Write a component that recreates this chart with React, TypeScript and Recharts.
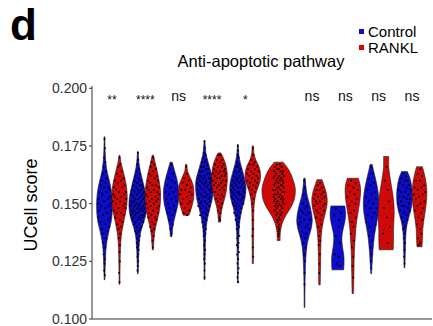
import React from 'react'
import { ComposedChart, Scatter, XAxis, YAxis, LabelList } from 'recharts'

const groups = [1, 2, 3, 4, 5, 6, 7, 8, 9, 10]
const sigLabels = ['**', '****', 'ns', '****', '*', '', 'ns', 'ns', 'ns', 'ns']
const yTicks = [0.1, 0.125, 0.15, 0.175, 0.2]
const legendItems = ['Control', 'RANKL']

const CONTROL = '#0c0cc9'
const RANKL = '#d10808'
const DODGE = 0.225
const WIDTH_SCALE = 1.1
const FONT = '"Liberation Sans", Arial, sans-serif'

// violin outlines: [score, half width in x units]
const ctrl1 = [[0.179, 0.01], [0.172, 0.02], [0.166, 0.05], [0.162, 0.1], [0.158, 0.16], [0.154, 0.2], [0.15, 0.215], [0.146, 0.21], [0.142, 0.18], [0.138, 0.12], [0.134, 0.07], [0.13, 0.04], [0.125, 0.025], [0.12, 0.015], [0.117, 0.01]]
const rankl1 = [[0.171, 0.01], [0.168, 0.04], [0.164, 0.1], [0.16, 0.16], [0.156, 0.2], [0.152, 0.21], [0.148, 0.19], [0.144, 0.14], [0.14, 0.09], [0.136, 0.05], [0.13, 0.025], [0.122, 0.015], [0.115, 0.01]]
const ctrl2 = [[0.1726, 0.01], [0.168, 0.03], [0.164, 0.07], [0.16, 0.13], [0.156, 0.19], [0.152, 0.235], [0.148, 0.24], [0.144, 0.2], [0.14, 0.12], [0.136, 0.06], [0.13, 0.03], [0.125, 0.02], [0.1196, 0.01]]
const rankl2 = [[0.171, 0.02], [0.168, 0.06], [0.164, 0.12], [0.16, 0.17], [0.156, 0.205], [0.152, 0.21], [0.148, 0.19], [0.144, 0.14], [0.14, 0.08], [0.136, 0.04], [0.13, 0.015]]
const ctrl3 = [[0.168, 0.03], [0.165, 0.08], [0.161, 0.15], [0.157, 0.2], [0.154, 0.21], [0.15, 0.19], [0.146, 0.13], [0.142, 0.07], [0.139, 0.04], [0.1357, 0.02]]
const rankl3 = [[0.167, 0.02], [0.164, 0.04], [0.161, 0.12], [0.158, 0.19], [0.155, 0.21], [0.152, 0.2], [0.149, 0.16], [0.147, 0.12], [0.145, 0.08]]
const ctrl4 = [[0.1774, 0.01], [0.172, 0.04], [0.168, 0.1], [0.164, 0.17], [0.16, 0.235], [0.156, 0.24], [0.152, 0.21], [0.148, 0.15], [0.144, 0.09], [0.14, 0.05], [0.135, 0.03], [0.128, 0.02], [0.122, 0.012], [0.117, 0.01]]
const rankl4 = [[0.172, 0.04], [0.17, 0.1], [0.167, 0.17], [0.163, 0.21], [0.159, 0.21], [0.155, 0.18], [0.151, 0.12], [0.148, 0.07], [0.145, 0.04], [0.142, 0.03]]
const ctrl5 = [[0.1757, 0.01], [0.171, 0.03], [0.167, 0.08], [0.163, 0.15], [0.159, 0.21], [0.156, 0.22], [0.152, 0.19], [0.148, 0.12], [0.144, 0.07], [0.14, 0.04], [0.134, 0.025], [0.126, 0.015], [0.1157, 0.01]]
const rankl5 = [[0.175, 0.02], [0.172, 0.03], [0.169, 0.08], [0.166, 0.17], [0.163, 0.21], [0.16, 0.2], [0.157, 0.14], [0.154, 0.08], [0.15, 0.04], [0.145, 0.025], [0.135, 0.02], [0.124, 0.015]]
const rankl6 = [[0.168, 0.12], [0.166, 0.22], [0.163, 0.33], [0.16, 0.4], [0.157, 0.45], [0.154, 0.45], [0.151, 0.41], [0.148, 0.32], [0.145, 0.2], [0.142, 0.11], [0.139, 0.06], [0.136, 0.04], [0.134, 0.04]]
const ctrl7 = [[0.161, 0.02], [0.157, 0.04], [0.153, 0.08], [0.149, 0.15], [0.145, 0.2], [0.142, 0.21], [0.139, 0.18], [0.135, 0.11], [0.131, 0.06], [0.126, 0.035], [0.12, 0.02], [0.112, 0.012], [0.105, 0.01]]
const rankl7 = [[0.1604, 0.07], [0.158, 0.12], [0.155, 0.18], [0.152, 0.21], [0.149, 0.2], [0.146, 0.16], [0.142, 0.1], [0.138, 0.06], [0.133, 0.04], [0.126, 0.03], [0.12, 0.025], [0.1148, 0.02]]
const ctrl8 = [[0.149, 0.19], [0.146, 0.21], [0.143, 0.2], [0.14, 0.16], [0.137, 0.12], [0.134, 0.11], [0.131, 0.13], [0.128, 0.16], [0.125, 0.17], [0.1213, 0.16]]
const rankl8 = [[0.161, 0.15], [0.158, 0.2], [0.155, 0.21], [0.151, 0.19], [0.147, 0.15], [0.143, 0.11], [0.139, 0.08], [0.134, 0.06], [0.128, 0.04], [0.12, 0.03], [0.111, 0.02]]
const ctrl9 = [[0.167, 0.03], [0.164, 0.07], [0.16, 0.13], [0.156, 0.18], [0.152, 0.21], [0.148, 0.21], [0.144, 0.18], [0.14, 0.13], [0.135, 0.08], [0.13, 0.05], [0.125, 0.03], [0.1196, 0.01]]
const rankl9 = [[0.1704, 0.07], [0.166, 0.07], [0.162, 0.1], [0.158, 0.14], [0.154, 0.18], [0.15, 0.21], [0.146, 0.22], [0.142, 0.21], [0.138, 0.2], [0.134, 0.2], [0.13, 0.19]]
const ctrl10 = [[0.1639, 0.08], [0.161, 0.15], [0.158, 0.19], [0.155, 0.21], [0.151, 0.21], [0.147, 0.17], [0.143, 0.1], [0.139, 0.05], [0.134, 0.03], [0.128, 0.02], [0.1222, 0.01]]
const rankl10 = [[0.166, 0.08], [0.163, 0.13], [0.159, 0.18], [0.155, 0.2], [0.151, 0.19], [0.147, 0.16], [0.143, 0.12], [0.139, 0.09], [0.135, 0.08], [0.1313, 0.07]]

// cells: [x offset from violin centre, score]
const ctrlPts1 = [[0, 0.178], [0.01, 0.174], [-0.01, 0.17], [0.02, 0.168], [-0.03, 0.166], [0.04, 0.164], [-0.05, 0.163], [0.06, 0.161], [-0.08, 0.16], [0.03, 0.159], [-0.1, 0.158], [0.11, 0.157], [-0.02, 0.157], [0.14, 0.156], [-0.13, 0.155], [0.05, 0.155], [-0.06, 0.154], [0.16, 0.153], [-0.16, 0.152], [0.09, 0.152], [-0.01, 0.151], [0.17, 0.15], [-0.18, 0.15], [0.12, 0.149], [-0.09, 0.149], [0.02, 0.148], [0.18, 0.147], [-0.15, 0.147], [0.07, 0.146], [-0.04, 0.145], [0.15, 0.144], [-0.17, 0.144], [0.1, 0.143], [-0.11, 0.142], [0.03, 0.141], [0.13, 0.14], [-0.07, 0.139], [0.08, 0.138], [-0.05, 0.137], [0.04, 0.135], [-0.03, 0.133], [0.02, 0.131], [-0.02, 0.128], [0.01, 0.126], [0, 0.124], [-0.01, 0.121], [0.01, 0.119]]
const ranklPts1 = [[0, 0.17], [0.02, 0.167], [-0.03, 0.166], [0.06, 0.164], [-0.07, 0.163], [0.01, 0.162], [0.11, 0.161], [-0.12, 0.16], [0.04, 0.16], [-0.04, 0.159], [0.14, 0.158], [-0.15, 0.157], [0.08, 0.157], [-0.09, 0.156], [0.17, 0.155], [-0.01, 0.155], [-0.17, 0.154], [0.12, 0.154], [0.05, 0.153], [-0.13, 0.153], [0.18, 0.152], [-0.06, 0.152], [0.02, 0.151], [-0.18, 0.151], [0.14, 0.15], [-0.1, 0.15], [0.09, 0.149], [-0.03, 0.148], [0.16, 0.148], [-0.15, 0.147], [0.04, 0.146], [-0.08, 0.146], [0.12, 0.145], [-0.12, 0.144], [0.01, 0.143], [0.08, 0.142], [-0.06, 0.141], [0.04, 0.14], [-0.03, 0.139], [0.02, 0.137], [-0.02, 0.135], [0.01, 0.132], [0, 0.129], [0.01, 0.125], [-0.01, 0.12], [0, 0.116]]
const ctrlPts2 = [[0, 0.172], [0.01, 0.169], [-0.02, 0.167], [0.03, 0.165], [-0.04, 0.164], [0.05, 0.163], [-0.06, 0.162], [0.02, 0.161], [0.08, 0.16], [-0.09, 0.16], [-0.01, 0.159], [0.11, 0.158], [-0.12, 0.158], [0.05, 0.158], [-0.05, 0.157], [0.14, 0.157], [0.09, 0.156], [-0.15, 0.156], [0, 0.156], [-0.09, 0.155], [0.16, 0.155], [0.04, 0.155], [-0.18, 0.154], [0.12, 0.154], [-0.03, 0.154], [0.19, 0.153], [-0.13, 0.153], [0.07, 0.153], [-0.07, 0.152], [0.15, 0.152], [0.01, 0.152], [-0.19, 0.151], [0.1, 0.151], [-0.11, 0.151], [0.2, 0.15], [-0.04, 0.15], [0.05, 0.15], [-0.16, 0.15], [0.14, 0.149], [-0.2, 0.149], [-0.08, 0.149], [0.02, 0.149], [0.18, 0.148], [-0.13, 0.148], [0.09, 0.148], [-0.02, 0.148], [-0.18, 0.147], [0.13, 0.147], [0.05, 0.147], [-0.1, 0.147], [0.19, 0.146], [-0.05, 0.146], [0.01, 0.146], [-0.15, 0.146], [0.1, 0.145], [-0.19, 0.145], [0.16, 0.145], [-0.07, 0.145], [0.04, 0.144], [-0.12, 0.144], [0.13, 0.144], [-0.01, 0.143], [0.08, 0.143], [-0.15, 0.143], [0.15, 0.142], [-0.06, 0.142], [0.03, 0.141], [-0.1, 0.141], [0.1, 0.14], [-0.03, 0.14], [0.06, 0.139], [-0.07, 0.138], [0.02, 0.138], [-0.04, 0.137], [0.05, 0.136], [-0.02, 0.135], [0.03, 0.134], [-0.03, 0.133], [0.01, 0.132], [-0.02, 0.131], [0.02, 0.13], [0, 0.128], [-0.01, 0.127], [0.01, 0.125], [0, 0.123], [-0.01, 0.121]]
const ranklPts2 = [[0.01, 0.17], [-0.03, 0.168], [0.04, 0.167], [-0.06, 0.166], [0.08, 0.165], [0.01, 0.164], [-0.1, 0.163], [0.11, 0.162], [-0.04, 0.162], [0.05, 0.161], [-0.13, 0.16], [0.14, 0.16], [-0.08, 0.159], [0.09, 0.158], [-0.01, 0.158], [-0.16, 0.157], [0.16, 0.157], [0.03, 0.156], [-0.11, 0.156], [0.12, 0.155], [-0.05, 0.155], [-0.18, 0.154], [0.18, 0.154], [0.07, 0.153], [-0.14, 0.153], [-0.02, 0.152], [0.15, 0.152], [-0.09, 0.151], [0.1, 0.151], [-0.18, 0.15], [0.03, 0.15], [0.17, 0.149], [-0.06, 0.149], [-0.14, 0.148], [0.12, 0.148], [0.01, 0.147], [-0.1, 0.146], [0.14, 0.146], [-0.04, 0.145], [0.07, 0.144], [-0.12, 0.144], [0.1, 0.143], [-0.02, 0.142], [0.04, 0.141], [-0.07, 0.14], [0.03, 0.139], [-0.02, 0.138], [0.02, 0.136], [-0.01, 0.134], [0, 0.131]]
const ctrlPts3 = [[0.01, 0.167], [-0.03, 0.165], [0.05, 0.163], [-0.07, 0.161], [0.02, 0.16], [0.1, 0.159], [-0.11, 0.158], [-0.02, 0.157], [0.14, 0.156], [0.06, 0.155], [-0.15, 0.155], [-0.06, 0.154], [0.12, 0.153], [0.01, 0.152], [-0.13, 0.152], [0.15, 0.151], [-0.09, 0.15], [0.07, 0.149], [-0.04, 0.148], [0.1, 0.147], [-0.1, 0.146], [0.03, 0.145], [-0.05, 0.143], [0.04, 0.141], [-0.02, 0.139], [0.01, 0.137]]
const ranklPts3 = [[0, 0.166], [0.02, 0.163], [-0.05, 0.161], [0.07, 0.16], [-0.1, 0.159], [0.02, 0.158], [0.13, 0.157], [-0.13, 0.156], [-0.03, 0.156], [0.09, 0.155], [-0.16, 0.154], [0.15, 0.154], [0.02, 0.153], [-0.08, 0.152], [0.11, 0.151], [-0.13, 0.15], [0.05, 0.15], [-0.03, 0.148], [0.09, 0.147], [-0.07, 0.146], [0.02, 0.145]]
const ctrlPts4 = [[0, 0.177], [0.01, 0.174], [-0.02, 0.172], [0.03, 0.171], [-0.04, 0.17], [0.05, 0.169], [-0.07, 0.168], [0.01, 0.168], [0.08, 0.167], [-0.09, 0.166], [-0.02, 0.166], [0.11, 0.165], [0.04, 0.165], [-0.12, 0.164], [-0.05, 0.164], [0.14, 0.163], [0.08, 0.163], [-0.15, 0.162], [0.01, 0.162], [-0.09, 0.162], [0.17, 0.161], [0.12, 0.161], [-0.18, 0.161], [-0.03, 0.161], [0.05, 0.16], [-0.13, 0.16], [0.19, 0.16], [-0.07, 0.159], [0.15, 0.159], [-0.2, 0.159], [0.02, 0.159], [0.1, 0.158], [-0.16, 0.158], [-0.01, 0.158], [0.2, 0.157], [-0.11, 0.157], [0.06, 0.157], [-0.19, 0.156], [0.16, 0.156], [-0.05, 0.156], [0.12, 0.156], [0.01, 0.155], [-0.14, 0.155], [0.18, 0.155], [-0.09, 0.154], [0.08, 0.154], [-0.18, 0.154], [0.03, 0.153], [0.15, 0.153], [-0.04, 0.153], [-0.15, 0.152], [0.11, 0.152], [-0.08, 0.151], [0.17, 0.151], [0.01, 0.151], [-0.12, 0.15], [0.07, 0.15], [-0.17, 0.149], [0.13, 0.149], [-0.03, 0.149], [0.04, 0.148], [-0.1, 0.148], [0.1, 0.147], [-0.06, 0.146], [0.02, 0.146], [-0.12, 0.145], [0.07, 0.145], [-0.02, 0.144], [0.05, 0.143], [-0.06, 0.142], [0.02, 0.141], [-0.03, 0.14], [0.04, 0.139], [-0.01, 0.138], [0.02, 0.137], [-0.02, 0.136], [0.01, 0.134], [-0.01, 0.132], [0.02, 0.13], [0, 0.128], [-0.01, 0.126], [0.01, 0.124], [0, 0.121], [0, 0.118]]
const ranklPts4 = [[0.02, 0.171], [-0.03, 0.171], [0.06, 0.169], [-0.07, 0.169], [0.01, 0.168], [0.11, 0.167], [-0.12, 0.167], [-0.04, 0.166], [0.07, 0.166], [0.15, 0.165], [-0.15, 0.165], [0.02, 0.164], [-0.09, 0.164], [0.12, 0.164], [-0.17, 0.163], [0.17, 0.163], [-0.03, 0.163], [0.06, 0.162], [-0.12, 0.162], [0.14, 0.162], [-0.06, 0.161], [0.01, 0.161], [-0.17, 0.16], [0.18, 0.16], [0.09, 0.16], [-0.1, 0.159], [0.04, 0.159], [-0.02, 0.158], [0.15, 0.158], [-0.15, 0.158], [0.08, 0.157], [-0.07, 0.157], [0.12, 0.156], [0.01, 0.156], [-0.12, 0.155], [0.06, 0.154], [-0.04, 0.154], [0.1, 0.153], [-0.09, 0.152], [0.02, 0.152], [-0.05, 0.151], [0.06, 0.15], [-0.02, 0.149], [0.03, 0.148], [-0.04, 0.147], [0.02, 0.146], [-0.01, 0.144], [0.01, 0.143]]
const ctrlPts5 = [[0, 0.175], [0.01, 0.173], [-0.01, 0.171], [0.02, 0.17], [-0.03, 0.168], [0.04, 0.167], [-0.05, 0.166], [0.01, 0.166], [0.07, 0.165], [-0.08, 0.164], [0.03, 0.164], [-0.03, 0.163], [0.1, 0.163], [-0.11, 0.162], [0.06, 0.162], [-0.06, 0.161], [0.13, 0.161], [0.01, 0.161], [-0.14, 0.16], [0.09, 0.16], [-0.02, 0.16], [0.16, 0.159], [-0.09, 0.159], [0.04, 0.159], [-0.17, 0.158], [0.12, 0.158], [-0.05, 0.158], [0.18, 0.157], [0.01, 0.157], [-0.13, 0.157], [0.08, 0.157], [-0.19, 0.156], [0.15, 0.156], [-0.08, 0.156], [0.03, 0.155], [-0.15, 0.155], [0.18, 0.155], [-0.02, 0.155], [0.1, 0.154], [-0.11, 0.154], [0.05, 0.154], [-0.17, 0.153], [0.15, 0.153], [-0.05, 0.153], [0.01, 0.152], [0.11, 0.152], [-0.13, 0.152], [-0.08, 0.151], [0.07, 0.151], [0.15, 0.15], [-0.02, 0.15], [-0.14, 0.15], [0.03, 0.149], [-0.09, 0.149], [0.1, 0.148], [-0.05, 0.148], [0.01, 0.147], [-0.1, 0.146], [0.07, 0.146], [-0.03, 0.145], [0.04, 0.144], [-0.06, 0.143], [0.02, 0.142], [-0.02, 0.141], [0.03, 0.14], [-0.03, 0.139], [0.01, 0.137], [0.04, 0.136], [-0.02, 0.135], [0.02, 0.133], [-0.03, 0.132], [0.01, 0.131], [0.03, 0.129], [-0.02, 0.128], [0.01, 0.126], [-0.01, 0.124], [0.02, 0.122], [0, 0.12], [-0.01, 0.118], [0.01, 0.116]]
const ranklPts5 = [[0, 0.174], [0.01, 0.171], [-0.04, 0.169], [0.05, 0.168], [-0.09, 0.167], [0.01, 0.167], [0.12, 0.166], [-0.13, 0.165], [0.06, 0.165], [-0.05, 0.164], [0.16, 0.164], [-0.16, 0.163], [0.02, 0.163], [0.1, 0.162], [-0.1, 0.162], [0.15, 0.161], [-0.02, 0.161], [-0.15, 0.16], [0.06, 0.16], [0.12, 0.159], [-0.08, 0.159], [0.02, 0.158], [-0.11, 0.157], [0.08, 0.157], [-0.03, 0.156], [0.05, 0.155], [-0.05, 0.154], [0.02, 0.152], [-0.01, 0.15], [0.01, 0.147], [0, 0.143], [0.01, 0.139], [-0.01, 0.136], [0, 0.131], [0.01, 0.127]]
const ranklPts6 = [[-0.05, 0.167], [0.03, 0.167], [0.08, 0.166], [-0.1, 0.166], [0.01, 0.165], [-0.04, 0.165], [0.12, 0.164], [-0.13, 0.164], [0.05, 0.164], [-0.07, 0.163], [0.1, 0.163], [0.02, 0.162], [-0.11, 0.162], [0.14, 0.162], [-0.02, 0.161], [0.07, 0.161], [-0.14, 0.161], [0.11, 0.16], [-0.06, 0.16], [0.03, 0.16], [-0.09, 0.159], [0.13, 0.159], [-0.01, 0.159], [0.06, 0.158], [-0.12, 0.158], [0.09, 0.158], [-0.04, 0.157], [0.14, 0.157], [0.01, 0.157], [-0.15, 0.156], [0.05, 0.156], [-0.08, 0.156], [0.11, 0.155], [-0.02, 0.155], [0.15, 0.155], [-0.12, 0.154], [0.04, 0.154], [-0.06, 0.154], [0.09, 0.153], [-0.14, 0.153], [0.01, 0.153], [0.13, 0.152], [-0.09, 0.152], [0.06, 0.152], [-0.03, 0.151], [0.11, 0.151], [-0.12, 0.151], [0.02, 0.15], [-0.07, 0.15], [0.14, 0.15], [-0.1, 0.149], [0.07, 0.149], [-0.01, 0.149], [0.1, 0.148], [-0.05, 0.148], [0.03, 0.147], [-0.11, 0.147], [0.08, 0.146], [-0.03, 0.146], [0.05, 0.145], [-0.07, 0.145], [0.01, 0.144], [-0.04, 0.143], [0.04, 0.143], [-0.02, 0.142], [0.02, 0.141], [-0.01, 0.14], [0.01, 0.139], [0, 0.138], [0.01, 0.137], [-0.01, 0.136]]
const ctrlPts7 = [[-0.01, 0.16], [0.01, 0.157], [-0.02, 0.154], [0.04, 0.152], [-0.05, 0.15], [0.07, 0.149], [0.01, 0.148], [-0.09, 0.147], [0.11, 0.146], [-0.04, 0.146], [0.05, 0.145], [-0.13, 0.144], [0.15, 0.143], [-0.01, 0.143], [-0.1, 0.142], [0.09, 0.141], [-0.15, 0.141], [0.03, 0.14], [0.13, 0.139], [-0.06, 0.138], [0.05, 0.137], [-0.09, 0.136], [0.02, 0.135], [-0.03, 0.133], [0.03, 0.131], [-0.01, 0.128], [0.01, 0.125], [0, 0.12], [0, 0.115]]
const ranklPts7 = [[0.02, 0.159], [-0.04, 0.158], [0.06, 0.157], [-0.08, 0.156], [0.01, 0.156], [0.11, 0.155], [-0.12, 0.154], [0.05, 0.154], [-0.04, 0.153], [0.14, 0.153], [-0.15, 0.152], [0.08, 0.152], [0.01, 0.151], [-0.1, 0.151], [0.15, 0.15], [-0.06, 0.15], [0.1, 0.149], [-0.14, 0.149], [0.03, 0.148], [-0.08, 0.147], [0.12, 0.147], [-0.03, 0.146], [0.06, 0.145], [-0.09, 0.144], [0.02, 0.143], [0.05, 0.141], [-0.03, 0.14], [0.01, 0.138], [-0.01, 0.136], [0.02, 0.134], [-0.02, 0.132], [0.01, 0.128], [0, 0.124], [-0.01, 0.12]]
const ctrlPts8 = [[-0.05, 0.148], [0.08, 0.146], [-0.1, 0.145], [0.04, 0.143], [0.02, 0.14], [-0.05, 0.136], [0.06, 0.133], [-0.08, 0.128], [0.03, 0.127], [-0.03, 0.124], [0.05, 0.123]]
const ranklPts8 = [[-0.05, 0.16], [0.08, 0.159], [-0.12, 0.158], [0.02, 0.157], [0.13, 0.156], [-0.08, 0.155], [0.05, 0.154], [-0.15, 0.153], [0.1, 0.152], [-0.02, 0.151], [0.07, 0.15], [-0.1, 0.149], [0.03, 0.147], [-0.06, 0.146], [0.08, 0.144], [-0.03, 0.142], [0.02, 0.14], [-0.05, 0.137], [0.03, 0.134], [-0.02, 0.131], [0.01, 0.127], [-0.01, 0.123], [0.01, 0.118]]
const ctrlPts9 = [[0, 0.166], [0.03, 0.163], [-0.05, 0.161], [0.07, 0.159], [-0.02, 0.158], [-0.1, 0.156], [0.1, 0.155], [0.02, 0.154], [-0.14, 0.153], [0.14, 0.152], [-0.06, 0.151], [0.06, 0.15], [-0.16, 0.149], [0.16, 0.148], [-0.02, 0.148], [0.09, 0.146], [-0.1, 0.145], [0.03, 0.144], [-0.13, 0.142], [0.12, 0.141], [-0.04, 0.14], [0.07, 0.138], [-0.06, 0.136], [0.03, 0.134], [-0.02, 0.131], [0.02, 0.128], [-0.01, 0.125], [0, 0.122]]
const ranklPts9 = [[0.01, 0.166], [-0.03, 0.16], [0.05, 0.156], [0.08, 0.151], [-0.06, 0.148], [0.02, 0.144], [0.1, 0.14], [-0.08, 0.137], [0.04, 0.133]]
const ctrlPts10 = [[-0.03, 0.163], [0.04, 0.162], [-0.08, 0.161], [0.09, 0.16], [0.01, 0.16], [-0.13, 0.159], [0.13, 0.158], [-0.04, 0.158], [0.06, 0.157], [-0.16, 0.156], [0.16, 0.156], [-0.09, 0.155], [0.02, 0.155], [0.11, 0.154], [-0.14, 0.153], [-0.02, 0.153], [0.15, 0.152], [0.06, 0.152], [-0.1, 0.151], [-0.17, 0.15], [0.12, 0.15], [0.01, 0.149], [-0.06, 0.149], [0.09, 0.148], [-0.12, 0.147], [0.14, 0.147], [-0.02, 0.146], [0.05, 0.145], [-0.08, 0.144], [0.08, 0.143], [-0.03, 0.142], [0.02, 0.14], [-0.04, 0.139], [0.01, 0.137], [-0.01, 0.135], [0.02, 0.133], [0, 0.13], [-0.01, 0.127], [0, 0.124]]
const ranklPts10 = [[0.02, 0.165], [-0.04, 0.163], [0.07, 0.162], [-0.09, 0.16], [0.01, 0.16], [0.12, 0.158], [-0.13, 0.157], [0.05, 0.157], [-0.05, 0.156], [0.15, 0.155], [-0.15, 0.154], [0.09, 0.154], [-0.01, 0.153], [-0.1, 0.152], [0.13, 0.151], [0.03, 0.15], [-0.06, 0.149], [0.1, 0.148], [-0.12, 0.147], [0.04, 0.146], [-0.03, 0.144], [0.08, 0.143], [-0.07, 0.141], [0.01, 0.139], [0.05, 0.137], [-0.04, 0.135], [0.02, 0.133], [-0.02, 0.132]]

const violins = [
  { group: 1, side: -1, fill: CONTROL, outline: ctrl1, pts: ctrlPts1 },
  { group: 1, side: 1, fill: RANKL, outline: rankl1, pts: ranklPts1 },
  { group: 2, side: -1, fill: CONTROL, outline: ctrl2, pts: ctrlPts2 },
  { group: 2, side: 1, fill: RANKL, outline: rankl2, pts: ranklPts2 },
  { group: 3, side: -1, fill: CONTROL, outline: ctrl3, pts: ctrlPts3 },
  { group: 3, side: 1, fill: RANKL, outline: rankl3, pts: ranklPts3 },
  { group: 4, side: -1, fill: CONTROL, outline: ctrl4, pts: ctrlPts4 },
  { group: 4, side: 1, fill: RANKL, outline: rankl4, pts: ranklPts4 },
  { group: 5, side: -1, fill: CONTROL, outline: ctrl5, pts: ctrlPts5 },
  { group: 5, side: 1, fill: RANKL, outline: rankl5, pts: ranklPts5 },
  { group: 6, side: 0, fill: RANKL, outline: rankl6, pts: ranklPts6 },
  { group: 7, side: -1, fill: CONTROL, outline: ctrl7, pts: ctrlPts7 },
  { group: 7, side: 1, fill: RANKL, outline: rankl7, pts: ranklPts7 },
  { group: 8, side: -1, fill: CONTROL, outline: ctrl8, pts: ctrlPts8 },
  { group: 8, side: 1, fill: RANKL, outline: rankl8, pts: ranklPts8 },
  { group: 9, side: -1, fill: CONTROL, outline: ctrl9, pts: ctrlPts9 },
  { group: 9, side: 1, fill: RANKL, outline: rankl9, pts: ranklPts9 },
  { group: 10, side: -1, fill: CONTROL, outline: ctrl10, pts: ctrlPts10 },
  { group: 10, side: 1, fill: RANKL, outline: rankl10, pts: ranklPts10 },
]

const SIG_Y = 0.1965

type P = { x: number; y: number }

// catmull-rom through the points, as cubic segments (no leading M)
function smooth(p: P[]) {
  let d = ''
  for (let i = 0; i < p.length - 1; i++) {
    const p0 = p[i - 1] || p[i]
    const p1 = p[i]
    const p2 = p[i + 1]
    const p3 = p[i + 2] || p2
    const c1x = p1.x + (p2.x - p0.x) / 6
    const c1y = p1.y + (p2.y - p0.y) / 6
    const c2x = p2.x - (p3.x - p1.x) / 6
    const c2y = p2.y - (p3.y - p1.y) / 6
    d += `C${c1x},${c1y} ${c2x},${c2y} ${p2.x},${p2.y}`
  }
  return d
}

function outlineData(v: (typeof violins)[number]) {
  const cx = v.group + v.side * DODGE
  const left = v.outline.map(([y, w]) => ({ x: cx - w * WIDTH_SCALE, y }))
  const right = v.outline.map(([y, w]) => ({ x: cx + w * WIDTH_SCALE, y })).reverse()
  return [...left, ...right]
}

function pointData(v: (typeof violins)[number]) {
  const cx = v.group + v.side * DODGE
  return v.pts.map(([dx, y]) => ({ x: cx + dx * WIDTH_SCALE, y }))
}

const violinShape = (n: number, fill: string) => (props: any) => {
  const pts: P[] = props.points || []
  if (pts.length < 2) return <g />
  const left = pts.slice(0, n)
  const right = pts.slice(n)
  const d = `M${left[0].x},${left[0].y}${smooth(left)}L${right[0].x},${right[0].y}${smooth(right)}Z`
  return <path d={d} fill={fill} stroke="#1a1a1a" strokeWidth={0.6} />
}

const nothing = () => <g />
const dot = (props: any) => (
  <rect x={props.cx - 0.85} y={props.cy - 0.85} width={1.7} height={1.7} fill="#000" />
)

const sigData = groups.map((g, i) => ({ x: g, y: SIG_Y, label: sigLabels[i] }))

const SigLabel = (props: any) => {
  const { x, y, width, height, value } = props
  if (!value) return null
  const star = String(value).includes('*')
  return (
    <text
      x={x + width / 2}
      y={y + height / 2 + (star ? 8 : 4.5)}
      textAnchor="middle"
      fontSize={star ? 12 : 14}
      fill="#111"
      fontFamily={FONT}
    >
      {value}
    </text>
  )
}

export default function App() {
  return (
    <div style={{ position: 'absolute', left: 0, top: 0, width: 433, height: 326, background: '#fff', fontFamily: FONT }}>
      <ComposedChart width={433} height={326} margin={{ top: 86, right: 1, bottom: 2, left: 0 }}>
        <XAxis
          type="number"
          dataKey="x"
          domain={[0.4, 10.6]}
          allowDataOverflow
          ticks={groups}
          tick={false}
          tickSize={3}
          height={5}
          stroke="#333"
        />
        <YAxis
          type="number"
          dataKey="y"
          domain={[0.1, 0.201]}
          allowDataOverflow
          ticks={yTicks}
          interval={0}
          tickFormatter={(v: number) => v.toFixed(3)}
          tickSize={3}
          width={92}
          stroke="#333"
          tick={{ fontSize: 14, fill: '#333', fontFamily: FONT }}
        />
        {violins.flatMap((v, i) => [
          <Scatter
            key={`v${i}`}
            data={outlineData(v)}
            shape={nothing}
            line={violinShape(v.outline.length, v.fill)}
            isAnimationActive={false}
          />,
          <Scatter key={`p${i}`} data={pointData(v)} shape={dot} isAnimationActive={false} />,
        ])}
        <Scatter data={sigData} shape={nothing} isAnimationActive={false}>
          <LabelList dataKey="label" content={SigLabel} />
        </Scatter>
      </ComposedChart>
      <svg width={433} height={326} style={{ position: 'absolute', left: 0, top: 0, pointerEvents: 'none' }}>
        <text x={10} y={40} fontSize={44} fontWeight="bold" fontFamily={FONT} fill="#000">d</text>
        <text x={261} y={67} fontSize={16.5} textAnchor="middle" fontFamily={FONT} fill="#000">
          Anti-apoptotic pathway
        </text>
        <text transform="translate(37,205) rotate(-90)" fontSize={18} textAnchor="middle" fontFamily={FONT} fill="#000">
          UCell score
        </text>
        {legendItems.map((name, i) => (
          <g key={name}>
            <rect x={359} y={29 + i * 16} width={5} height={5} fill={i === 0 ? CONTROL : RANKL} />
            <text x={368} y={37 + i * 16} fontSize={15} fontFamily={FONT} fill="#000">{name}</text>
          </g>
        ))}
      </svg>
    </div>
  )
}
